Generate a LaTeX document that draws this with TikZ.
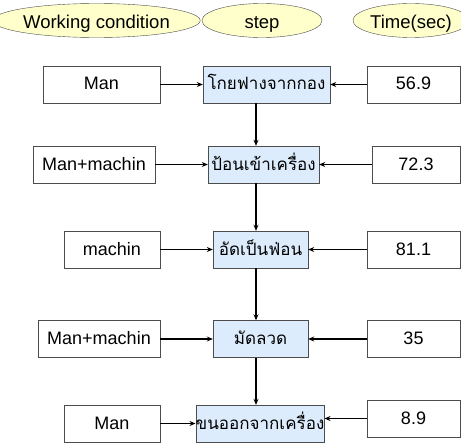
\documentclass[tikz,border=0pt]{standalone}
\usepackage{fontspec}
\setmainfont{Liberation Sans}
\newfontfamily\thaifont[Script=Thai]{Loma}
\usetikzlibrary{shapes.geometric,arrows.meta}
\definecolor{headfill}{RGB}{255,255,204}
\definecolor{stepfill}{RGB}{221,236,252}
\tikzset{
  head/.style={ellipse,draw=gray!60!black,fill=headfill,inner sep=0pt,
    minimum height=34pt,text height=17pt,text depth=0pt,
    font=\fontsize{18.5}{18.5}\selectfont},
  cond/.style={rectangle,draw=gray!60!black,fill=white,inner sep=0pt,
    minimum height=37pt,text height=14pt,text depth=3pt,
    font=\fontsize{18}{18}\selectfont},
  stepbox/.style={rectangle,draw=gray!60!black,fill=stepfill,inner sep=0pt,
    minimum height=37pt,text height=14pt,text depth=3pt,
    font=\thaifont\fontsize{17}{17}\selectfont},
  flow/.style={line width=1.8pt,-{Stealth[length=6pt,width=5pt]}}
}
\begin{document}
\begin{tikzpicture}[x=1pt,y=-1pt]
  \clip (0,0) rectangle (461,444);
  \node[head,minimum width=171pt] (hc) at (96.5,20.5) {Working condition};
  \node[head,minimum width=120pt] (hs) at (262,20.5) {step};
  \node[head,minimum width=116pt] (ht) at (411,20.5) {Time(sec)};
  \coordinate (col) at (256,0);

  \node[cond,minimum width=117pt] (c1) at (101.5,84.5) {Man};
  \node[stepbox,minimum width=127pt] (s1) at (266.5,84.5) {โกยฟางจากกอง};
  \node[cond,minimum width=93pt] (t1) at (413.5,84.5) {56.9};

  \node[cond,minimum width=122pt] (c2) at (94,164.5) {Man+machin};
  \node[stepbox,minimum width=111pt] (s2) at (263.5,164.5) {ป้อนเข้าเครื่อง};
  \node[cond,minimum width=88pt] (t2) at (416,164.5) {72.3};

  \node[cond,minimum width=96pt] (c3) at (112,249.5) {machin};
  \node[stepbox,minimum width=95pt] (s3) at (260.5,249.5) {อัดเป็นฟ่อน};
  \node[cond,minimum width=93pt] (t3) at (413.5,249.5) {81.1};

  \node[cond,minimum width=122pt] (c4) at (99,339) {Man+machin};
  \node[stepbox,minimum width=95pt] (s4) at (260.5,339) {มัดลวด};
  \node[cond,minimum width=93pt] (t4) at (413.5,339) {35};

  \node[cond,minimum width=96pt] (c5) at (112,423.5) {Man};
  \node[stepbox,minimum width=126pt] (s5) at (260,423.5) {ขนออกจากเครื่อง};
  \node[cond,minimum width=93pt] (t5) at (413.5,418.5) {8.9};

  \foreach \i in {1,...,5}{
    \draw[flow] (c\i.east) -- (c\i.east -| s\i.west);
    \draw[flow] (t\i.west) -- (t\i.west -| s\i.east);
  }
  \foreach \i/\j in {1/2,2/3,3/4,4/5}
    \draw[flow] (s\i.south -| col) -- (s\j.north -| col);
\end{tikzpicture}
\end{document}
